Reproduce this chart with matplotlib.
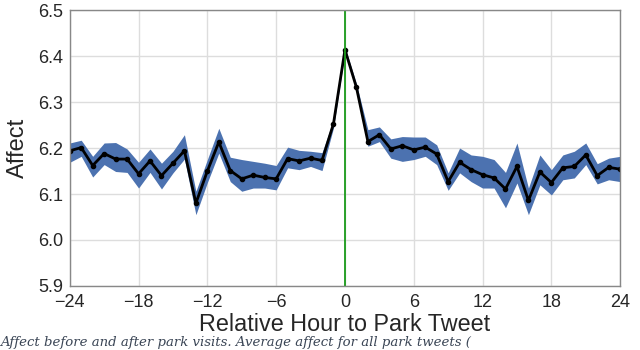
import numpy as np
import matplotlib
matplotlib.use("Agg")
import matplotlib.pyplot as plt

hours = np.arange(-24, 25)

affect = [6.194, 6.201, 6.162, 6.188, 6.176, 6.176, 6.144, 6.172, 6.140, 6.167,
          6.194, 6.080, 6.150, 6.213, 6.151, 6.133, 6.141, 6.136, 6.133, 6.177,
          6.172, 6.178, 6.173, 6.253, 6.414, 6.332, 6.214, 6.229, 6.198, 6.205,
          6.196, 6.202, 6.187, 6.127, 6.169, 6.153, 6.142, 6.135, 6.111, 6.160,
          6.086, 6.148, 6.125, 6.157, 6.160, 6.185, 6.140, 6.158, 6.154]

upper = [6.211, 6.217, 6.182, 6.211, 6.212, 6.198, 6.169, 6.198, 6.167, 6.193,
         6.229, 6.106, 6.175, 6.243, 6.180, 6.175, 6.171, 6.167, 6.162, 6.202,
         6.195, 6.193, 6.190, 6.262, 6.420, 6.340, 6.240, 6.246, 6.220, 6.225,
         6.224, 6.224, 6.207, 6.146, 6.200, 6.185, 6.182, 6.175, 6.147, 6.211,
         6.113, 6.185, 6.153, 6.185, 6.193, 6.211, 6.166, 6.178, 6.182]

lower = [6.169, 6.182, 6.137, 6.164, 6.149, 6.147, 6.113, 6.147, 6.111, 6.146,
         6.176, 6.055, 6.125, 6.189, 6.127, 6.106, 6.113, 6.113, 6.109, 6.157,
         6.153, 6.160, 6.151, 6.244, 6.408, 6.325, 6.204, 6.214, 6.178, 6.171,
         6.175, 6.182, 6.164, 6.108, 6.146, 6.127, 6.113, 6.113, 6.070, 6.124,
         6.055, 6.120, 6.098, 6.131, 6.135, 6.164, 6.122, 6.131, 6.127]

xticks = [-24, -18, -12, -6, 0, 6, 12, 18, 24]
yticks = [5.9, 6.0, 6.1, 6.2, 6.3, 6.4, 6.5]

caption = "Affect before and after park visits. Average affect for all park tweets ("

plt.rcParams["font.family"] = ["Liberation Sans", "DejaVu Sans"]

fig = plt.figure(figsize=(6.4, 3.5), dpi=100)
ax = fig.add_axes([0.109, 0.183, 0.86, 0.788])

ax.fill_between(hours, lower, upper, color="#4C72B0", lw=0)
ax.plot(hours, affect, color="black", lw=2, marker="o", ms=3)
ax.axvline(0, color="#1a9a1a", lw=1.3)

ax.set_xlim(-24, 24)
ax.set_ylim(5.9, 6.5)
ax.set_xticks(xticks)
ax.set_xticklabels([str(t).replace("-", "\u2212") for t in xticks])
ax.set_yticks(yticks)
ax.set_yticklabels([f"{t:.1f}" for t in yticks])
ax.tick_params(labelsize=13, colors="#262626", length=0)
ax.tick_params(axis="x", pad=6)
ax.tick_params(axis="y", pad=5)
ax.grid(True, color="#dddddd", lw=1)
ax.set_axisbelow(True)
for s in ax.spines.values():
    s.set_color("#888888")
    s.set_linewidth(1)

ax.set_xlabel("Relative Hour to Park Tweet", fontsize=16.8, color="#262626", labelpad=1)
ax.set_ylabel("Affect", fontsize=17, color="#262626", labelpad=6)

fig.text(0.0, 0.002, caption, fontsize=9.5, style="italic", family="DejaVu Serif",
         color="#3a4555", va="bottom")

fig.savefig("out.png", dpi=100)
